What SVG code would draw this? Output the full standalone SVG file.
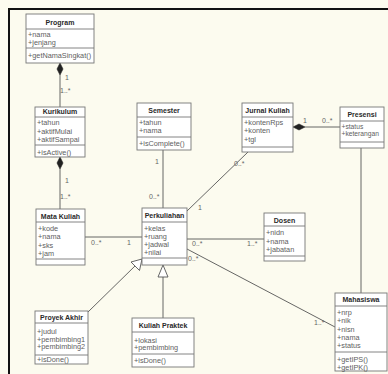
<svg xmlns="http://www.w3.org/2000/svg" width="388" height="374" viewBox="0 0 388 374">
  <defs>
    <style>
      .bg { fill: #fcfbef; }
      .frame { fill: none; stroke: #111; stroke-width: 2; }
      .box { fill: #ffffff; stroke: #777; stroke-width: 0.9; }
      .sep { stroke: #777; stroke-width: 0.9; }
      .name { font-family: "Liberation Sans", Arial, sans-serif; font-size: 7px; font-weight: bold; fill: #2a2a2a; text-anchor: middle; }
      .attr { font-family: "Liberation Sans", Arial, sans-serif; font-size: 7.3px; fill: #606060; }
      .small { font-size: 6.7px; }
      .lbl { font-family: "Liberation Sans", Arial, sans-serif; font-size: 7px; fill: #666; }
      .edge { fill: none; stroke: #555; stroke-width: 0.9; }
      .comp { fill: #222; stroke: #222; stroke-width: 0.6; }
      .gen { fill: #ffffff; stroke: #555; stroke-width: 0.9; }
    </style>
  </defs>

  <rect class="bg" x="0" y="0" width="388" height="374"/>
  <path class="frame" d="M9,375 V9 H389"/>

  <!-- connectors -->
  <g id="connectors">
    <!-- Program <>- Kurikulum -->
    <line class="edge" x1="60" y1="75" x2="60" y2="107"/>
    <polygon class="comp" points="60,63 63,69 60,75 57,69"/>
    <text class="lbl" x="65" y="80">1</text>
    <text class="lbl" x="60" y="93">1..*</text>

    <!-- Kurikulum <>- Mata Kuliah -->
    <line class="edge" x1="60" y1="169" x2="60" y2="209"/>
    <polygon class="comp" points="60,157 63,163 60,169 57,163"/>
    <text class="lbl" x="65" y="183">1</text>
    <text class="lbl" x="60" y="199">1..*</text>

    <!-- Mata Kuliah - Perkuliahan -->
    <line class="edge" x1="85" y1="237" x2="142" y2="237"/>
    <text class="lbl" x="91" y="245">0..*</text>
    <text class="lbl" x="127" y="245">1</text>

    <!-- Semester - Perkuliahan -->
    <line class="edge" x1="163" y1="150" x2="163" y2="208"/>
    <text class="lbl" x="155" y="164">1</text>
    <text class="lbl" x="149" y="199">0..*</text>

    <!-- Jurnal Kuliah - Perkuliahan -->
    <line class="edge" x1="248" y1="152" x2="187" y2="211"/>
    <text class="lbl" x="234" y="166">0..*</text>
    <text class="lbl" x="198" y="210">1</text>

    <!-- Jurnal Kuliah <>- Presensi -->
    <line class="edge" x1="305" y1="127" x2="340" y2="127"/>
    <polygon class="comp" points="293,127 299,124 305,127 299,130"/>
    <text class="lbl" x="303" y="123">1</text>
    <text class="lbl" x="322" y="123">0..*</text>

    <!-- Presensi - Mahasiswa -->
    <line class="edge" x1="361" y1="148" x2="361" y2="293"/>

    <!-- Perkuliahan - Dosen -->
    <line class="edge" x1="187" y1="239" x2="264" y2="239"/>
    <text class="lbl" x="192" y="246">0..*</text>
    <text class="lbl" x="247" y="246">1..*</text>

    <!-- Perkuliahan - Mahasiswa -->
    <line class="edge" x1="187" y1="249" x2="335" y2="327"/>
    <text class="lbl" x="188" y="261">0..*</text>
    <text class="lbl" x="314" y="325">1..*</text>

    <!-- Proyek Akhir -|> Perkuliahan -->
    <line class="edge" x1="88" y1="312" x2="136" y2="265"/>
    <polygon class="gen" points="142,259 139.5,270.5 131,262"/>

    <!-- Kuliah Praktek -|> Perkuliahan -->
    <line class="edge" x1="163" y1="318" x2="163" y2="277"/>
    <polygon class="gen" points="163,265 168,277 158,277"/>
  </g>

  <!-- classes -->
  <g id="program">
    <rect class="box" x="26" y="14" width="68" height="49"/>
    <line class="sep" x1="26" y1="29" x2="94" y2="29"/>
    <line class="sep" x1="26" y1="48" x2="94" y2="48"/>
    <text class="name" x="60" y="25">Program</text>
    <text class="attr" x="28" y="36.5">+nama</text>
    <text class="attr" x="28" y="45">+jenjang</text>
    <text class="attr" x="28" y="58">+getNamaSingkat()</text>
  </g>

  <g id="kurikulum">
    <rect class="box" x="35" y="107" width="50" height="50"/>
    <line class="sep" x1="35" y1="117" x2="85" y2="117"/>
    <line class="sep" x1="35" y1="145" x2="85" y2="145"/>
    <text class="name" x="60" y="114">Kurikulum</text>
    <text class="attr" x="37" y="125">+tahun</text>
    <text class="attr" x="37" y="133.5">+aktifMulai</text>
    <text class="attr" x="37" y="142">+aktifSampai</text>
    <text class="attr" x="37" y="154.5">+isActive()</text>
  </g>

  <g id="mata-kuliah">
    <rect class="box" x="36" y="209" width="49" height="56"/>
    <line class="sep" x1="36" y1="222" x2="85" y2="222"/>
    <line class="sep" x1="36" y1="259" x2="85" y2="259"/>
    <text class="name" x="60.5" y="218.5">Mata Kuliah</text>
    <text class="attr" x="38" y="231">+kode</text>
    <text class="attr" x="38" y="239">+nama</text>
    <text class="attr" x="38" y="247.5">+sks</text>
    <text class="attr" x="38" y="255.5">+jam</text>
  </g>

  <g id="semester">
    <rect class="box" x="137" y="103" width="54" height="47"/>
    <line class="sep" x1="137" y1="117" x2="191" y2="117"/>
    <line class="sep" x1="137" y1="137" x2="191" y2="137"/>
    <text class="name" x="164" y="112.5">Semester</text>
    <text class="attr" x="139" y="125">+tahun</text>
    <text class="attr" x="139" y="133">+nama</text>
    <text class="attr" x="139" y="146">+isComplete()</text>
  </g>

  <g id="jurnal-kuliah">
    <rect class="box" x="242" y="103" width="51" height="49"/>
    <line class="sep" x1="242" y1="117" x2="293" y2="117"/>
    <line class="sep" x1="242" y1="147" x2="293" y2="147"/>
    <text class="name" x="267.5" y="112.5">Jurnal Kuliah</text>
    <text class="attr" x="244" y="125">+kontenRps</text>
    <text class="attr" x="244" y="133">+konten</text>
    <text class="attr" x="244" y="141.5">+tgl</text>
  </g>

  <g id="presensi">
    <rect class="box" x="340" y="107" width="44" height="41"/>
    <line class="sep" x1="340" y1="121" x2="384" y2="121"/>
    <line class="sep" x1="340" y1="142" x2="384" y2="142"/>
    <text class="name" x="362" y="116.5">Presensi</text>
    <text class="attr small" x="341.5" y="128.5">+status</text>
    <text class="attr small" x="341.5" y="136">+keterangan</text>
  </g>

  <g id="perkuliahan">
    <rect class="box" x="142" y="208" width="45" height="57"/>
    <line class="sep" x1="142" y1="222" x2="187" y2="222"/>
    <line class="sep" x1="142" y1="258" x2="187" y2="258"/>
    <text class="name" x="164.5" y="217.5">Perkuliahan</text>
    <text class="attr" x="144" y="231">+kelas</text>
    <text class="attr" x="144" y="239">+ruang</text>
    <text class="attr" x="144" y="247">+jadwal</text>
    <text class="attr" x="144" y="255">+nilai</text>
  </g>

  <g id="dosen">
    <rect class="box" x="264" y="213" width="41" height="48"/>
    <line class="sep" x1="264" y1="226" x2="305" y2="226"/>
    <line class="sep" x1="264" y1="256" x2="305" y2="256"/>
    <text class="name" x="284.5" y="222.5">Dosen</text>
    <text class="attr" x="266" y="235">+nidn</text>
    <text class="attr" x="266" y="243.5">+nama</text>
    <text class="attr" x="266" y="251.5">+jabatan</text>
  </g>

  <g id="mahasiswa">
    <rect class="box" x="335" y="293" width="52" height="78"/>
    <line class="sep" x1="335" y1="306" x2="387" y2="306"/>
    <line class="sep" x1="335" y1="352" x2="387" y2="352"/>
    <text class="name" x="361" y="302">Mahasiswa</text>
    <text class="attr" x="337" y="315">+nrp</text>
    <text class="attr" x="337" y="323">+nik</text>
    <text class="attr" x="337" y="331.5">+nisn</text>
    <text class="attr" x="337" y="340">+nama</text>
    <text class="attr" x="337" y="348">+status</text>
    <text class="attr" x="337" y="361.5">+getIPS()</text>
    <text class="attr" x="337" y="369.5">+getIPK()</text>
  </g>

  <g id="proyek-akhir">
    <rect class="box" x="35" y="311" width="53" height="53"/>
    <line class="sep" x1="35" y1="323" x2="88" y2="323"/>
    <line class="sep" x1="35" y1="355" x2="88" y2="355"/>
    <text class="name" x="61.5" y="320">Proyek Akhir</text>
    <text class="attr" x="37" y="333.5">+judul</text>
    <text class="attr" x="37" y="341.5">+pembimbing1</text>
    <text class="attr" x="37" y="349">+pembimbing2</text>
    <text class="attr" x="37" y="362">+isDone()</text>
  </g>

  <g id="kuliah-praktek">
    <rect class="box" x="132" y="318" width="62" height="49"/>
    <line class="sep" x1="132" y1="332" x2="194" y2="332"/>
    <line class="sep" x1="132" y1="354" x2="194" y2="354"/>
    <text class="name" x="163" y="328">Kuliah Praktek</text>
    <text class="attr" x="134" y="342.5">+lokasi</text>
    <text class="attr" x="134" y="350">+pembimbing</text>
    <text class="attr" x="134" y="363">+isDone()</text>
  </g>
</svg>
